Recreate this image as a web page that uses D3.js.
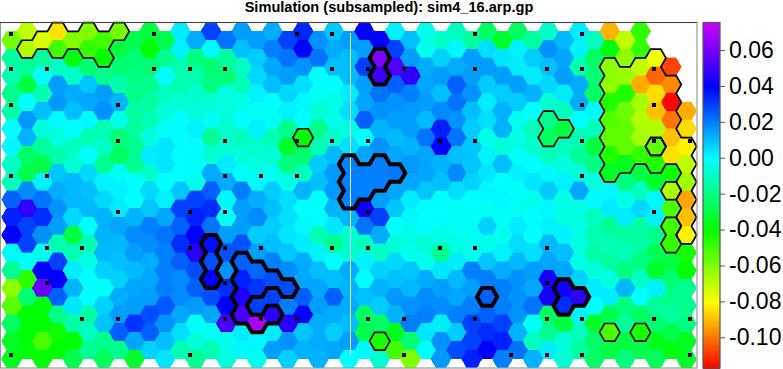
<!DOCTYPE html>
<html>
<head>
<meta charset="utf-8">
<script src="https://cdn.jsdelivr.net/npm/d3@7"></script>
<style>
  html, body { margin: 0; padding: 0; background: #fff; }
  svg { display: block; }
  text { font-family: "Liberation Sans", sans-serif; }
</style>
</head>
<body>
<script>
// cell values in thousandths
// rows at the top of the odd columns (1,3,...,43)
const oddRows = [
  [-70,-84,-60,-58,-30,3,30,15,13,34,9,40,2,-3,-10,-25,-25,-8,3,-91,-47,null],
  [-68,-50,-48,-30,-40,2,1,10,20,40,13,15,30,-3,1,5,2,17,2,-38,-48,null],
  [-16,-9,-22,-22,-22,-12,-22,-10,14,17,10,30,54,13,13,15,3,10,-12,-62,-70,-107],
  [-30,15,9,-13,-18,-12,-20,-12,10,5,0,15,25,14,25,8,15,6,13,-62,-92,-97],
  [0,16,14,12,-15,-7,-6,-4,0,1,-4,14,17,15,22,3,8,-7,13,-45,-66,-116],
  [16,1,1,-4,-12,0,-2,0,-2,0,-4,25,15,11,17,5,-2,-18,0,-53,-68,-100],
  [12,-5,-12,-22,-5,0,-17,-10,-12,-40,-8,0,11,22,22,-4,-4,-25,-12,-55,-66,-89],
  [-24,-13,0,-25,3,0,-7,-6,-7,-23,11,14,14,14,10,2,-1,-10,-16,-45,-48,-84],
  [-28,9,6,-2,-8,0,13,-1,-3,-10,16,20,21,14,18,4,2,1,-6,-34,-30,-42],
  [18,13,10,2,6,9,25,20,8,12,16,20,14,9,5,1,0,8,14,1,-10,-67],
  [48,17,11,3,9,30,33,15,10,0,12,42,9,0,-1,-2,-2,1,-4,3,6,-52],
  [30,15,0,14,20,25,22,15,8,1,4,22,0,0,-1,7,3,2,-4,-16,-14,-50],
  [30,-12,-12,11,18,33,38,27,10,3,-18,-10,-6,-7,-4,-3,5,11,-5,-12,-15,-48],
  [0,30,-4,10,13,25,28,25,20,13,0,2,6,-3,3,9,11,14,-4,-15,-20,-30],
  [-47,40,0,7,14,18,40,35,28,14,10,0,10,13,11,20,17,44,7,-5,-9,-22],
  [-22,25,0,13,15,18,28,45,30,25,25,10,16,18,14,25,17,44,48,3,0,-18],
  [-40,-18,-14,15,28,14,14,52,48,40,13,-25,12,20,20,25,17,-25,2,-28,-25,-15],
  [-40,-42,-10,25,25,5,-2,3,3,9,8,-28,-35,4,8,33,12,-17,-10,-52,-44,-28],
  [-38,-40,-17,-18,7,-12,-12,1,15,12,14,1,-50,0,28,40,22,3,-15,-30,-28,-37]
];
// rows of the even columns (0,2,...,44)
const evenRows = [
  [-58,-74,-60,-50,-28,-28,13,22,15,30,17,15,40,10,-8,-15,-33,-15,11,-10,-70,null,null],
  [-15,-15,-38,-40,-22,-18,-20,-15,8,22,22,10,62,15,7,15,4,8,14,-25,-62,-78,null],
  [-12,0,-9,-18,-20,0,-13,-22,6,15,0,10,50,48,15,15,15,3,15,-22,-64,-102,null],
  [-18,-12,13,15,-18,-10,-8,-5,2,6,-1,3,22,20,10,17,8,12,3,-25,-45,-85,null],
  [-13,10,10,17,-14,-6,-6,-5,-1,2,-7,5,17,16,18,10,12,0,-10,1,-57,-89,-92],
  [0,-5,0,-12,-15,-1,2,-8,2,-18,-18,-4,12,15,35,8,12,-11,-30,-11,-55,-68,-85],
  [1,-15,-10,-9,-18,4,0,-7,-8,-33,-12,5,17,12,40,9,-6,-8,-10,-30,-55,-55,-82],
  [-9,-28,-7,-17,-17,4,0,3,-5,-20,8,20,20,16,12,9,10,0,-5,-20,-35,-45,-70],
  [-11,2,11,2,-1,0,-3,13,1,-4,10,20,20,14,10,7,0,4,2,-5,-20,-33,-65],
  [25,22,11,6,0,2,30,1,13,5,0,20,15,3,0,0,1,-3,-4,1,-4,1,-93],
  [35,33,6,12,12,14,35,0,18,5,0,12,30,1,0,-1,-1,0,-5,-10,3,2,-89],
  [40,17,-30,12,18,22,40,15,8,4,-12,-8,13,-4,-4,-2,-2,0,2,-12,-15,-18,-82],
  [1,-3,-12,11,15,20,47,27,15,9,2,-7,-9,-3,-17,-3,2,5,10,-14,-11,-27,-43],
  [-17,40,3,7,11,20,28,17,24,18,10,13,7,9,4,20,13,15,14,-5,-20,-33,-41],
  [-62,58,12,0,14,20,25,33,32,28,14,12,12,11,15,15,20,14,43,3,11,2,-18],
  [-54,-38,4,7,15,26,16,40,30,20,15,13,8,17,18,20,20,22,33,0,-20,-16,-18],
  [-25,-40,-14,9,32,17,0,52,70,47,13,10,-25,20,3,30,30,0,-30,-33,-16,-22,-20],
  [-34,-52,-40,-18,14,10,-6,-3,1,17,13,15,-44,-22,17,30,35,-10,-6,-24,-30,-36,-35],
  [-36,-40,-28,-26,-33,4,-17,-5,-3,7,12,0,-8,-60,16,35,20,12,-7,-24,-20,-26,-34]
];

// colorbar
const colorDomain = [-0.1167, -0.08, -0.04, 0, 0.04, 0.0753];
const colorRange = ["#ff0000", "#ffff00", "#00ff00", "#00ffff", "#0000ff", "#cc00ff"];
const tickValues = [0.06, 0.04, 0.02, 0, -0.02, -0.04, -0.06, -0.08, -0.10];

// black squares, column numbers for each marker row
const markerRows = [
  [0,4,8,9,13,16],
  [0,1,4,5,6,9,10,11,13,15,16,18],
  [0,3,16,18],
  [3,6,8,9,10,12,13,16,18,19],
  [0,1,6,7,8,16],
  [3,5,6,10,18],
  [1,2,5,6,7,9,10,12,13,15],
  [1,6,15],
  [2,3,6,7,8,10,11,13,15,16,18,19],
  [0,5,11,14,15,16,19]
];

// outlined groups of cells as [column, row]
const thinClusters = [
  [[1,2],[2,1],[3,0],[3,2],[4,1],[5,0],[5,2],[6,1],[6,3],[7,0]],
  [[35,10],[35,12],[36,11]],
  [[19,12]],
  [[24,35]],
  [[39,34]],
  [[41,34]],
  [[42,13]],
  [[43,18]],
  [[43,22],[43,24]],
  [[39,4],[39,6],[39,8],[39,10],[39,12],[39,14],[39,16],
   [40,5],[40,7],[40,9],[40,11],[40,13],[40,15],
   [41,4],[41,6],[41,8],[41,10],[41,12],[41,14],
   [42,3],[42,5],[42,7],[42,9],[42,11],[42,15],
   [43,6],[43,8],[43,10],[43,12],[43,14],
   [44,13],[44,15],[44,17],[44,19],[44,21],[44,23]]
];
const thickClusters = [
  [[24,3],[24,5]],
  [[22,15],[22,17],[22,19],[23,16],[23,18],[24,15],[24,17],[25,16]],
  [[13,24],[13,26],[13,28]],
  [[15,26],[15,28],[15,30],[15,32],[16,27],[16,29],[16,33],[17,28],[17,32],[18,29]],
  [[36,29],[36,31],[37,30]],
  [[31,30]]
];

const title = "Simulation (subsampled): sim4_16.arp.gp";

const width = 783, height = 369;
const frame = { left: 0.5, right: 697, top: 22.5, bottom: 368 };

const svg = d3.select("body").append("svg")
  .attr("width", width)
  .attr("height", height);

const x = d3.scaleLinear().domain([0, 44]).range([11.7, 686.4]);
const y = d3.scaleLinear().domain([0, 37]).range([31.4, 358.9]);
const color = d3.scaleLinear().domain(colorDomain).range(colorRange);

const R = (x(1) - x(0)) / 1.5;
const h = y(1) - y(0);
// corners clockwise from the right one, and the neighbour behind each edge
const corners = [[R,0],[R/2,h],[-R/2,h],[-R,0],[-R/2,-h],[R/2,-h]];
const neighbours = [[1,1],[0,2],[-1,1],[-1,-1],[0,-2],[1,-1]];

function corner(c, r, i) {
  return [x(c) + corners[i][0], y(r) + corners[i][1]];
}

// flatten both row sets to cells
const cells = [];
oddRows.forEach(function(row, j) {
  row.forEach(function(v, i) {
    if (v !== null) cells.push({ c: 2*i + 1, r: 2*j, value: v / 1000 });
  });
});
evenRows.forEach(function(row, j) {
  row.forEach(function(v, i) {
    if (v !== null) cells.push({ c: 2*i, r: 2*j + 1, value: v / 1000 });
  });
});

svg.append("g").selectAll("path")
  .data(cells)
  .enter().append("path")
  .attr("d", function(d) {
    return "M" + d3.range(6).map(function(i) { return corner(d.c, d.r, i); }).join("L") + "Z";
  })
  .attr("fill", function(d) { return color(d.value); })
  .attr("stroke", function(d) { return color(d.value); })
  .attr("stroke-width", 0.4)
  .attr("shape-rendering", "crispEdges");

// white line down the middle
svg.append("line")
  .attr("x1", 350.5).attr("x2", 350.5)
  .attr("y1", 33).attr("y2", 355)
  .attr("stroke", "#e8e8e8");

// outline edges where the neighbour is not in the cluster
function outline(cluster) {
  const inside = new Set(cluster.map(function(d) { return d.join(","); }));
  let path = "";
  cluster.forEach(function(d) {
    neighbours.forEach(function(n, i) {
      if (!inside.has((d[0] + n[0]) + "," + (d[1] + n[1]))) {
        path += "M" + corner(d[0], d[1], i) + "L" + corner(d[0], d[1], (i + 1) % 6);
      }
    });
  });
  return path;
}

svg.append("g").selectAll("path")
  .data(thinClusters)
  .enter().append("path")
  .attr("d", outline)
  .attr("fill", "none")
  .attr("stroke", "#000")
  .attr("stroke-width", 1.7)
  .attr("stroke-linecap", "round");

svg.append("g").selectAll("path")
  .data(thickClusters)
  .enter().append("path")
  .attr("d", outline)
  .attr("fill", "none")
  .attr("stroke", "#000")
  .attr("stroke-width", 4)
  .attr("stroke-linecap", "round");

// markers
const mx = d3.scaleLinear().domain([0, 19]).range([11, 689.5]);
const my = d3.scaleLinear().domain([0, 9]).range([33.7, 354.5]);
const markers = [];
markerRows.forEach(function(row, j) {
  row.forEach(function(i) { markers.push([i, j]); });
});
svg.append("g").selectAll("rect")
  .data(markers)
  .enter().append("rect")
  .attr("x", function(d) { return Math.round(mx(d[0])) - 2; })
  .attr("y", function(d) { return Math.round(my(d[1])) - 2; })
  .attr("width", 4)
  .attr("height", 4)
  .attr("fill", "#000");

// frame
svg.append("rect")
  .attr("x", frame.left).attr("y", frame.top)
  .attr("width", frame.right - frame.left)
  .attr("height", frame.bottom - frame.top)
  .attr("fill", "none")
  .attr("stroke", "#9a9a9a")
  .attr("stroke-width", 1.2);
svg.append("line")
  .attr("x1", 0).attr("x2", frame.right)
  .attr("y1", frame.top).attr("y2", frame.top)
  .attr("stroke", "#444");

// colorbar, one rect per pixel row
const barX = 703, barW = 17;
const barScale = d3.scaleLinear().domain([0.06, -0.10]).range([50, 337.3]);
svg.append("g").selectAll("rect")
  .data(d3.range(frame.top, frame.bottom))
  .enter().append("rect")
  .attr("x", barX)
  .attr("y", function(d) { return d; })
  .attr("width", barW)
  .attr("height", 1.2)
  .attr("fill", function(d) { return color(barScale.invert(d)); })
  .attr("shape-rendering", "crispEdges");
svg.append("rect")
  .attr("x", barX).attr("y", frame.top)
  .attr("width", barW).attr("height", frame.bottom - frame.top)
  .attr("fill", "none")
  .attr("stroke", "#555")
  .attr("stroke-width", 1.2);

const barAxis = d3.axisRight(barScale)
  .tickValues(tickValues)
  .tickSize(5)
  .tickPadding(4)
  .tickFormat(function(d) { return d.toFixed(2); });
const axisG = svg.append("g")
  .attr("transform", "translate(" + (barX + barW) + ",0)")
  .call(barAxis);
axisG.select(".domain").remove();
axisG.selectAll("line").attr("stroke", "#555");
axisG.selectAll("text")
  .attr("fill", "#000")
  .style("font-size", "23px");

svg.append("text")
  .attr("x", 389)
  .attr("y", 11.5)
  .attr("text-anchor", "middle")
  .style("font-size", "14.6px")
  .style("font-weight", "bold")
  .text(title);
</script>
</body>
</html>
